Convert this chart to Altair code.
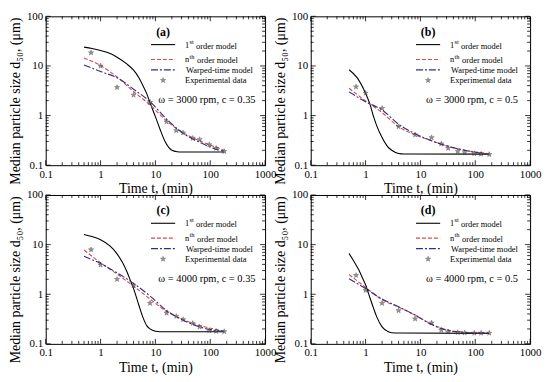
import altair as alt
import pandas as pd

FONT = "Liberation Serif"
W, H = 221, 150
RED = "#d64a4a"
BLUE = "#2a3188"
RED_DASH = [4, 2]
BLUE_DASH = [7, 2, 2, 2]
STAR_PATH = ("M0,-1L0.2245,-0.309L0.951,-0.309L0.363,0.118L0.588,0.809L0,0.382"
             "L-0.588,0.809L-0.363,0.118L-0.951,-0.309L-0.2245,-0.309Z")

# ---------------- data ----------------
t_exp = [0.67, 1, 2, 4, 8, 16, 24, 32, 48, 64, 96, 128, 180]
exp_a = [18.5, 10, 3.7, 2.6, 1.85, 0.75, 0.5, 0.45, 0.35, 0.33, 0.26, 0.22, 0.19]
exp_b = [3.8, 2.85, 1.4, 0.6, 0.41, 0.36, 0.27, 0.22, 0.19, 0.18, 0.172, 0.168, 0.165]
exp_c = [7.9, 3.9, 2.0, 1.5, 0.66, 0.42, 0.36, 0.31, 0.26, 0.22, 0.185, 0.18, 0.177]
exp_d = [2.4, 1.2, 0.66, 0.47, 0.32, 0.265, 0.19, 0.175, 0.17, 0.167, 0.165, 0.165, 0.165]

t_fit = [0.5, 1, 2, 4, 8, 16, 32, 64, 128, 180]
nth_a = [14.5, 10.2, 6.0, 3.05, 1.63, 0.78, 0.45, 0.31, 0.23, 0.2]
warp_a = [10.5, 7.7, 5.8, 3.4, 1.9, 0.85, 0.44, 0.29, 0.21, 0.19]
nth_b = [3.55, 1.97, 1.15, 0.6, 0.41, 0.31, 0.24, 0.2, 0.178, 0.17]
warp_b = [3.0, 1.9, 1.3, 0.67, 0.43, 0.31, 0.24, 0.2, 0.175, 0.168]
nth_c = [7.8, 4.3, 2.55, 1.45, 0.8, 0.45, 0.31, 0.235, 0.195, 0.18]
warp_c = [5.8, 4.15, 2.7, 1.65, 0.92, 0.47, 0.3, 0.22, 0.185, 0.177]
nth_d = [2.5, 1.38, 0.78, 0.55, 0.38, 0.25, 0.19, 0.172, 0.166, 0.165]
warp_d = [2.06, 1.3, 0.8, 0.56, 0.38, 0.245, 0.186, 0.17, 0.165, 0.164]

t_first_a = [0.5, 0.7, 1, 1.5, 2, 3, 4, 5, 6, 7, 8, 10, 12, 15, 20, 25, 30, 180]
first_a = [24, 22.5, 20.5, 17.8, 15, 11, 8.2, 5.8, 3.9, 2.7, 1.8, 0.95, 0.55, 0.3, 0.2, 0.187, 0.185, 0.185]
t_first_b = [0.5, 0.7, 1, 1.2, 1.4, 1.6, 2, 2.5, 3, 4, 5, 180]
first_b = [8.4, 5.8, 2.8, 1.7, 0.95, 0.62, 0.36, 0.24, 0.2, 0.172, 0.168, 0.167]
t_first_c = [0.5, 0.7, 1, 1.5, 2, 2.5, 3, 3.5, 4, 5, 6, 7, 8, 10, 12, 180]
first_c = [16, 14.5, 12.5, 9.3, 6.5, 4.4, 2.9, 1.9, 1.3, 0.6, 0.33, 0.23, 0.2, 0.18, 0.176, 0.175]
t_first_d = [0.5, 0.6, 0.75, 0.9, 1.0, 1.2, 1.4, 1.6, 2, 2.5, 3, 4, 180]
first_d = [6.6, 4.8, 3.1, 2.0, 1.55, 0.85, 0.52, 0.35, 0.22, 0.18, 0.168, 0.165, 0.163]

x_major = [0.1, 1, 10, 100, 1000]
y_major = [0.1, 1, 10, 100]
x_minor = [m * 10.0 ** e for e in (-1, 0, 1, 2) for m in range(2, 10)]
y_minor = [m * 10.0 ** e for e in (-1, 0, 1) for m in range(2, 10)]

XS = alt.Scale(type="log", domain=[0.1, 1000], nice=False)
YS = alt.Scale(type="log", domain=[0.1, 100], nice=False)


def tx(px):  # plot pixel -> time value (log axis)
    return 10 ** (-1 + 4 * px / W)


def ty(py):  # plot pixel -> size value (log axis)
    return 10 ** (2 - 3 * py / H)


def X(f="t"):
    return alt.X(f"{f}:Q", scale=XS)


def Y(f="d"):
    return alt.Y(f"{f}:Q", scale=YS)


def curve(t, d, color, dash=None, axes=False):
    df = pd.DataFrame({"t": t, "d": d})
    kw = dict(color=color, strokeWidth=1.1, interpolate="monotone", clip=True)
    if dash:
        kw["strokeDash"] = dash
    if axes:
        x = alt.X("t:Q", scale=XS, axis=alt.Axis(values=x_major, format="~g", labelFlush=False,
                                                  title="Time t, (min)"))
        y = alt.Y("d:Q", scale=YS, axis=alt.Axis(values=y_major, format="~g", labelFlush=False,
                                                  title="Median particle size d\u2085\u2080, (\u03bcm)",
                                                  titleX=-23, titleY=H / 2 + 10))
    else:
        x, y = X(), Y()
    return alt.Chart(df).mark_line(**kw).encode(x=x, y=y)


def tick_layers():
    rows_v, rows_h = [], []
    for vals, L in ((x_major, 5), (x_minor, 3)):
        for v in vals:
            rows_v.append({"t": v, "d": 0.1, "d2": ty(H - L)})
            rows_v.append({"t": v, "d": 100, "d2": ty(L)})
    for vals, L in ((y_major, 5), (y_minor, 3)):
        for v in vals:
            rows_h.append({"d": v, "t": 0.1, "t2": tx(L)})
            rows_h.append({"d": v, "t": 1000, "t2": tx(W - L)})
    v = alt.Chart(pd.DataFrame(rows_v)).mark_rule(color="black", strokeWidth=0.8).encode(
        x=X(), y=Y(), y2="d2:Q")
    h = alt.Chart(pd.DataFrame(rows_h)).mark_rule(color="black", strokeWidth=0.8).encode(
        y=Y(), x=X(), x2="t2:Q")
    return [v, h]


def texts(rows, size, weight="normal", align="left"):
    df = pd.DataFrame(rows, columns=["s", "t", "d"])
    return alt.Chart(df).mark_text(font=FONT, fontSize=size, fontWeight=weight, align=align,
                                   baseline="alphabetic", color="black").encode(
        x=X(), y=Y(), text="s:N")


def sample(x1, x2, y, color, dash=None):
    kw = dict(color=color, strokeWidth=1.1)
    if dash:
        kw["strokeDash"] = dash
    df = pd.DataFrame({"t": [tx(x1)], "t2": [tx(x2)], "d": [ty(y)]})
    return alt.Chart(df).mark_rule(**kw).encode(x=X(), x2="t2:Q", y=Y())


STAR = dict(shape=STAR_PATH, filled=True, size=30, color="#6a6a6a", stroke="#222", strokeWidth=0.5)


def legend(tag, note):
    lx1, lx2 = 0.48 * W, 0.59 * W
    tx0 = 0.635 * W
    r = [0.19 * H, 0.29 * H, 0.36 * H, 0.43 * H]
    b = 3
    L = [texts([(f"({tag})", tx(0.535 * W), ty(0.13 * H))], 12, "bold", "center"),
         sample(lx1, lx2, r[0], "black"),
         sample(lx1, lx2, r[1], RED, RED_DASH),
         sample(lx1, lx2, r[2], BLUE, BLUE_DASH),
         alt.Chart(pd.DataFrame({"t": [tx(0.535 * W)], "d": [ty(r[3])]})).mark_point(**STAR).encode(x=X(), y=Y())]
    L.append(texts([
        ("1", tx(tx0), ty(r[0] + b)),
        ("order model", tx(tx0 + 11), ty(r[0] + b + 1)),
        ("n", tx(tx0), ty(r[1] + b)),
        ("order model", tx(tx0 + 12), ty(r[1] + b + 1)),
        ("Warped-time model", tx(tx0 + 1), ty(r[2] + b)),
        ("Experimental data", tx(tx0), ty(r[3] + b)),
    ], 8.5))
    L.append(texts([("st", tx(tx0 + 4.5), ty(r[0] + b - 4)),
                    ("th", tx(tx0 + 4.5), ty(r[1] + b - 4))], 6.5))
    L.append(texts([(note, tx(0.735 * W), ty(0.56 * H + 3.5))], 10.5, align="center"))
    return L


def panel(tag, note, t1, d1, dn, dw, de):
    layers = [curve(t1, d1, "black", axes=True),
              curve(t_fit, dn, RED, RED_DASH),
              curve(t_fit, dw, BLUE, BLUE_DASH),
              alt.Chart(pd.DataFrame({"t": t_exp, "d": de})).mark_point(**STAR).encode(x=X(), y=Y())]
    layers += tick_layers()
    layers += legend(tag, note)
    return alt.layer(*layers).properties(width=W, height=H)


pa = panel("a", "\u03c9 = 3000 rpm, c = 0.35", t_first_a, first_a, nth_a, warp_a, exp_a)
pb = panel("b", "\u03c9 = 3000 rpm, c = 0.5", t_first_b, first_b, nth_b, warp_b, exp_b)
pc = panel("c", "\u03c9 = 4000 rpm, c = 0.35", t_first_c, first_c, nth_c, warp_c, exp_c)
pd_ = panel("d", "\u03c9 = 4000 rpm, c = 0.5", t_first_d, first_d, nth_d, warp_d, exp_d)

chart = alt.concat(pa, pb, pc, pd_, columns=2, spacing={"row": 30, "column": 46},
                   bounds="flush").properties(
    padding={"left": 0, "top": 0, "right": 0, "bottom": 0}
).configure_view(stroke="black", strokeWidth=1).configure_axis(
    labelFont=FONT, labelFontSize=11, labelColor="black", labelPadding=3,
    titleFont=FONT, titleFontSize=14, titleFontWeight="normal", titleColor="black",
    grid=False, ticks=False, domain=False, titlePadding=3
)

chart.save("out.html", embed_options={"renderer": "svg", "actions": False})
